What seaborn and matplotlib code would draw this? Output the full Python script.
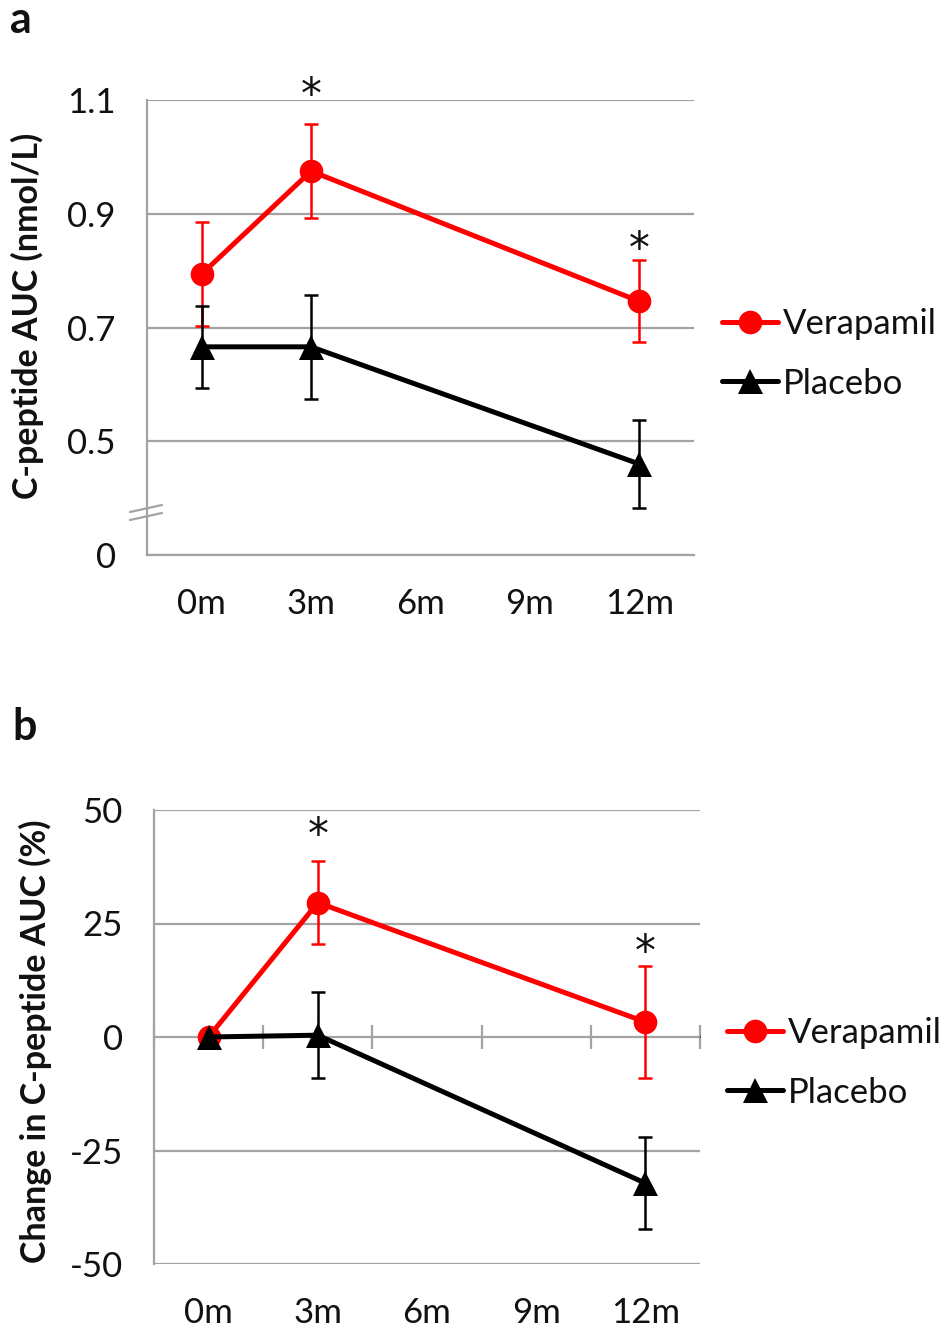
import numpy as np
import pandas as pd
import matplotlib
matplotlib.use("Agg")
import matplotlib.pyplot as plt
import seaborn as sns
from matplotlib.lines import Line2D

# ---------------- data ----------------
categories = ["0m", "3m", "6m", "9m", "12m"]
obs_months = ["0m", "3m", "12m"]
groups = ["Verapamil", "Placebo"]

verapamil_auc = [0.794, 0.975, 0.746]
verapamil_auc_err = [0.092, 0.082, 0.072]
placebo_auc = [0.666, 0.666, 0.460]
placebo_auc_err = [0.072, 0.092, 0.078]

verapamil_pct = [0.0, 29.6, 3.3]
verapamil_pct_err = [0.0, 9.2, 12.4]
placebo_pct = [0.0, 0.4, -32.2]
placebo_pct_err = [0.0, 9.5, 10.2]

auc_ticks = [0.3, 0.5, 0.7, 0.9, 1.1]          # 0.3 slot shown as the broken-axis "0"
auc_tick_labels = ["0", "0.5", "0.7", "0.9", "1.1"]
pct_ticks = [-50, -25, 0, 25, 50]
pct_tick_labels = ["-50", "-25", "0", "25", "50"]

star_months = ["3m", "12m"]
star_auc_y = [1.107, 0.836]
star_pct_y = [44.3, 18.5]

# ---------------- style ----------------
sns.set_theme(style="white")
plt.rcParams["font.family"] = ["Lato", "DejaVu Sans"]

GRAY = "#a3a3a3"
TXT = "#111111"
palette = {"Verapamil": "#ff0000", "Placebo": "#000000"}
markers = {"Verapamil": "o", "Placebo": "^"}
msize = {"Verapamil": 17, "Placebo": 18}
FS = 25

W, H = 944, 1330
fig = plt.figure(figsize=(W / 100, H / 100), dpi=100)


def px_axes(left, top, right, bottom):
    return fig.add_axes([left / W, 1 - bottom / H, (right - left) / W, (bottom - top) / H])


def draw_panel(ax, ver, ver_err, pla, pla_err):
    pos = [categories.index(m) for m in obs_months]
    df = pd.DataFrame({
        "pos": pos + pos,
        "value": list(ver) + list(pla),
        "group": ["Verapamil"] * len(pos) + ["Placebo"] * len(pos),
    })
    errs = {"Verapamil": ver_err, "Placebo": pla_err}
    for g in groups:
        sub = df[df["group"] == g]
        ax.errorbar(sub["pos"], sub["value"], yerr=errs[g], fmt="none",
                    ecolor=palette[g], elinewidth=1.8, capsize=5, capthick=1.8,
                    zorder=3)
        sns.lineplot(data=sub, x="pos", y="value", color=palette[g],
                     marker=markers[g], markersize=msize[g], markeredgewidth=0,
                     linewidth=3.6, errorbar=None, legend=False, ax=ax, zorder=4)
    ax.set_xlim(-0.5, 4.5)
    ax.set_xlabel("")
    ax.set_ylabel("")
    for s in ["top", "right"]:
        ax.spines[s].set_visible(False)
    for s in ["left", "bottom"]:
        ax.spines[s].set_color(GRAY)
        ax.spines[s].set_linewidth(1.6)
    ax.grid(axis="y", color=GRAY, linewidth=1.6, zorder=0)
    ax.set_axisbelow(True)
    ax.tick_params(axis="y", which="major", length=8.5, width=1.6, color=GRAY,
                   direction="out", pad=14, labelsize=FS, labelcolor=TXT)


def add_legend(x_px, y_px):
    handles = [Line2D([0], [0], color=palette[g], marker=markers[g],
                      markersize=msize[g], markeredgewidth=0, linewidth=3.6)
               for g in groups]
    fig.legend(handles, groups, loc="center left",
               bbox_to_anchor=(x_px / W, 1 - y_px / H), frameon=False,
               fontsize=FS, handlelength=1.6, handletextpad=0.15,
               labelspacing=0.78, borderpad=0, borderaxespad=0, labelcolor=TXT)


def add_stars(ax, ys):
    for m, y in zip(star_months, ys):
        ax.text(categories.index(m), y, "*", ha="center", va="center",
                fontsize=30, color=TXT, clip_on=False, family="DejaVu Sans")


# ---------------- panel a ----------------
ax1 = px_axes(147, 100, 694, 555)
draw_panel(ax1, verapamil_auc, verapamil_auc_err, placebo_auc, placebo_auc_err)
ax1.set_ylim(0.3, 1.1)
ax1.set_yticks(auc_ticks, auc_tick_labels)
ax1.set_xticks(range(len(categories)), categories)
ax1.set_xticks(np.arange(-0.5, len(categories), 1.0), minor=True)
ax1.tick_params(axis="x", which="major", length=0, pad=24, labelsize=FS,
                labelcolor=TXT)
ax1.tick_params(axis="x", which="minor", length=8.5, width=1.6, color=GRAY,
                direction="out")
# axis-break marks on the value axis
for off in (0, 8):
    ax1.plot([-17 / 547, 15 / 547], [(555 - 520 - off) / 455 + 8 / 455,
                                      (555 - 505 - off) / 455],
             transform=ax1.transAxes, color=GRAY, linewidth=1.6, clip_on=False,
             zorder=5)
add_stars(ax1, star_auc_y)
add_legend(722, 354)

# ---------------- panel b ----------------
ax2 = px_axes(154, 810, 700, 1264)
draw_panel(ax2, verapamil_pct, verapamil_pct_err, placebo_pct, placebo_pct_err)
ax2.set_ylim(-50, 50)
ax2.set_yticks(pct_ticks, pct_tick_labels)
ax2.spines["bottom"].set_visible(False)
ax2.set_xticks(range(len(categories)), categories)
ax2.tick_params(axis="x", which="major", length=0, pad=24, labelsize=FS,
                labelcolor=TXT)
# horizontal axis crossing at zero, with tick marks between categories
boundaries = np.arange(-0.5, len(categories), 1.0)
zero_axis = ax2.secondary_xaxis(0.5)
zero_axis.set_xticks(boundaries, [""] * len(boundaries))
zero_axis.tick_params(length=17, width=1.6, color=GRAY, direction="inout",
                      labelbottom=False, labeltop=False)
zero_axis.spines["bottom"].set_color(GRAY)
zero_axis.spines["bottom"].set_linewidth(1.6)
add_stars(ax2, star_pct_y)
add_legend(727, 1063)

# ---------------- labels ----------------
fig.text(27 / W, 1 - 316 / H, "C-peptide AUC (nmol/L)", rotation=90,
         ha="center", va="center", fontsize=24.5, fontweight="bold", color=TXT)
fig.text(35 / W, 1 - 1041 / H, "Change in C-peptide AUC (%)", rotation=90,
         ha="center", va="center", fontsize=24.5, fontweight="bold", color=TXT)
fig.text(10 / W, 1 - 33 / H, "a", ha="left", va="baseline", fontsize=31,
         fontweight="bold", color=TXT)
fig.text(12 / W, 1 - 740 / H, "b", ha="left", va="baseline", fontsize=31,
         fontweight="bold", color=TXT)

fig.savefig("out.png", dpi=100)
